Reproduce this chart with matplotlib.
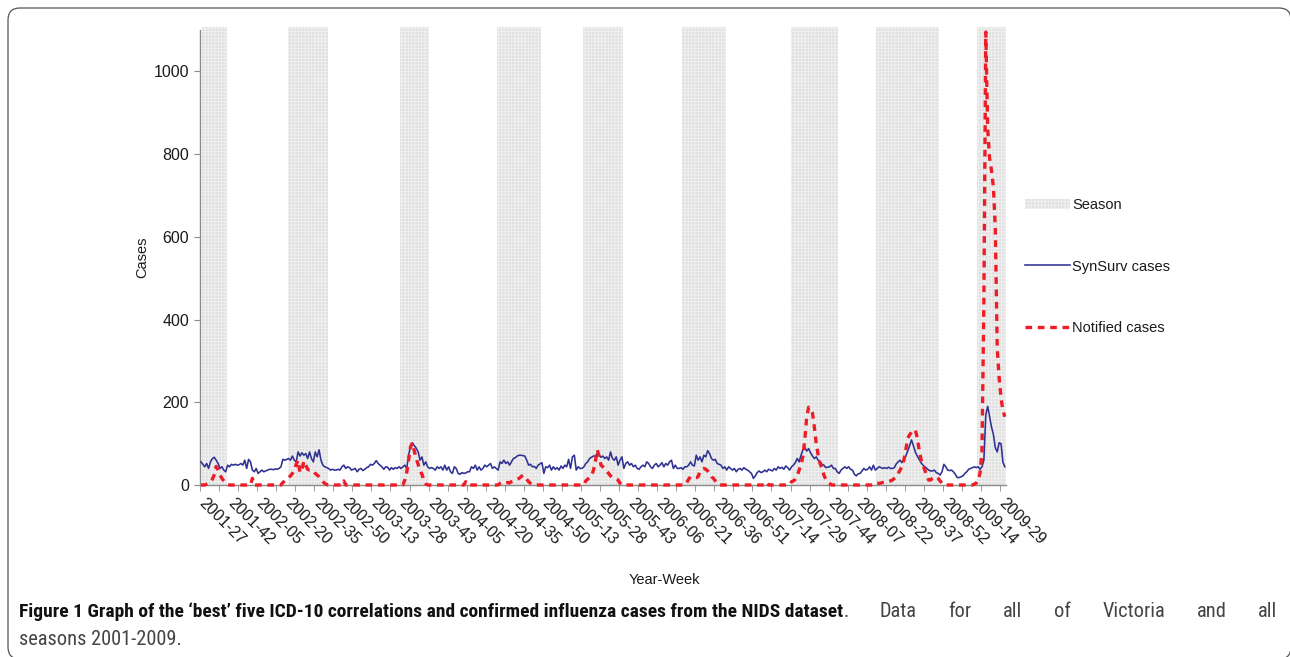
import matplotlib
matplotlib.use("Agg")
import numpy as np
import matplotlib.pyplot as plt
from matplotlib import font_manager
from matplotlib.patches import Patch, FancyBboxPatch
from matplotlib.lines import Line2D
from matplotlib.transforms import IdentityTransform, ScaledTranslation

# -------- data: weekly counts, one value per Year-Week from 2001-27 --------

synsurv = [
    56, 50, 44, 52, 40, 56, 64, 67, 60, 52,
    40, 44, 36, 32, 48, 44, 50, 48, 50, 48,
    49, 52, 48, 60, 40, 62, 56, 36, 32, 40,
    28, 32, 36, 32, 34, 36, 38, 38, 37, 39,
    38, 40, 44, 62, 60, 62, 64, 60, 70, 60,
    56, 80, 70, 78, 72, 76, 64, 80, 64, 56,
    80, 68, 85, 60, 48, 44, 42, 40, 36, 38,
    36, 36, 38, 36, 44, 48, 40, 44, 42, 36,
    38, 40, 32, 38, 40, 35, 38, 42, 44, 50,
    48, 52, 59, 52, 48, 44, 38, 44, 43, 36,
    42, 38, 42, 40, 44, 40, 44, 48, 40, 72,
    94, 102, 95, 89, 80, 60, 68, 48, 56, 44,
    40, 42, 40, 36, 44, 40, 44, 36, 48, 36,
    44, 32, 28, 44, 40, 28, 26, 30, 28, 29,
    32, 32, 44, 40, 48, 36, 44, 36, 40, 48,
    44, 48, 52, 40, 44, 40, 36, 56, 52, 60,
    52, 56, 48, 56, 64, 66, 70, 72, 72, 71,
    70, 60, 48, 50, 44, 45, 40, 48, 51, 54,
    28, 44, 42, 48, 36, 44, 38, 42, 36, 46,
    40, 48, 44, 62, 40, 68, 72, 36, 44, 40,
    40, 44, 52, 56, 64, 67, 70, 70, 76, 72,
    67, 70, 64, 68, 60, 80, 64, 60, 68, 48,
    60, 68, 40, 52, 56, 48, 52, 44, 48, 40,
    38, 44, 48, 44, 56, 52, 44, 40, 48, 52,
    44, 48, 54, 44, 52, 48, 56, 60, 40, 48,
    40, 40, 42, 38, 44, 44, 48, 56, 48, 46,
    72, 60, 68, 56, 72, 68, 83, 76, 64, 60,
    62, 52, 50, 48, 40, 44, 36, 44, 40, 36,
    40, 32, 38, 40, 36, 42, 38, 36, 32, 28,
    16, 22, 30, 34, 30, 32, 36, 32, 38, 36,
    34, 40, 36, 44, 40, 43, 38, 46, 42, 36,
    44, 48, 54, 64, 56, 72, 85, 91, 82, 88,
    78, 70, 64, 68, 60, 56, 50, 48, 42, 43,
    44, 48, 40, 40, 32, 28, 36, 40, 44, 40,
    44, 38, 36, 26, 22, 27, 28, 34, 40, 36,
    38, 44, 36, 48, 36, 40, 44, 42, 40, 42,
    40, 43, 40, 40, 42, 51, 56, 60, 54, 62,
    70, 82, 95, 109, 95, 80, 70, 62, 54, 48,
    44, 40, 36, 34, 34, 36, 30, 28, 24, 32,
    50, 44, 36, 35, 36, 32, 26, 18, 18, 20,
    22, 28, 32, 38, 40, 42, 44, 42, 44, 38,
    44, 60, 170, 190, 165, 140, 122, 90, 80, 102,
    100, 55, 44,
]

notified = [
    0, 0, 0, 2, 4, 8, 14, 25, 45, 36,
    24, 16, 10, 4, 1, 0, 0, 0, 0, 0,
    0, 0, 0, 0, 0, 0, 0, 16, 0, 0,
    0, 0, 0, 0, 0, 0, 0, 0, 0, 0,
    0, 0, 0, 6, 10, 14, 18, 22, 28, 36,
    50, 60, 30, 36, 58, 48, 38, 36, 36, 34,
    28, 24, 20, 14, 8, 4, 1, 0, 0, 0,
    0, 0, 0, 0, 0, 10, 0, 0, 0, 0,
    0, 0, 0, 0, 0, 0, 0, 0, 0, 0,
    0, 0, 0, 0, 0, 0, 0, 0, 0, 0,
    0, 0, 0, 0, 0, 0, 0, 12, 30, 60,
    92, 102, 82, 64, 50, 36, 26, 12, 3, 0,
    0, 0, 0, 0, 0, 0, 0, 0, 0, 0,
    0, 0, 0, 0, 0, 0, 0, 0, 0, 8,
    0, 0, 0, 0, 0, 0, 0, 0, 0, 0,
    0, 0, 0, 0, 0, 0, 0, 4, 6, 4,
    5, 6, 5, 8, 10, 12, 14, 16, 20, 24,
    20, 14, 8, 4, 2, 0, 0, 0, 0, 0,
    0, 0, 0, 0, 0, 0, 0, 0, 0, 0,
    0, 0, 0, 0, 0, 0, 0, 0, 0, 0,
    0, 0, 10, 14, 18, 22, 35, 55, 85, 70,
    48, 44, 40, 34, 28, 22, 18, 16, 14, 12,
    4, 0, 0, 0, 0, 0, 0, 0, 0, 0,
    0, 0, 0, 0, 0, 0, 0, 0, 0, 0,
    0, 0, 0, 0, 0, 0, 0, 0, 0, 0,
    0, 0, 0, 0, 0, 6, 14, 20, 20, 18,
    18, 20, 34, 38, 40, 38, 34, 28, 20, 16,
    10, 4, 0, 0, 0, 0, 0, 0, 0, 0,
    0, 0, 0, 0, 0, 0, 0, 0, 0, 0,
    0, 0, 0, 0, 0, 0, 0, 6, 0, 0,
    0, 0, 0, 0, 0, 0, 0, 0, 0, 0,
    8, 10, 14, 22, 36, 48, 70, 110, 165, 188,
    185, 175, 140, 100, 72, 52, 40, 24, 14, 8,
    4, 0, 0, 0, 0, 0, 0, 0, 0, 0,
    0, 0, 0, 0, 0, 0, 0, 0, 0, 0,
    0, 0, 0, 0, 0, 4, 4, 5, 6, 6,
    7, 8, 10, 12, 16, 20, 28, 36, 45, 60,
    85, 113, 121, 128, 133, 133, 115, 85, 62, 48,
    36, 22, 12, 12, 16, 18, 20, 16, 10, 4,
    0, 0, 0, 0, 0, 0, 0, 0, 0, 0,
    0, 0, 0, 0, 0, 0, 2, 5, 10, 30,
    80, 450, 1095, 860, 790, 760, 720, 620, 330, 260,
    210, 180, 165,
]

# season = first / last week index of each shaded block
season_start = [1, 46, 105, 156, 201, 253, 310, 355, 408]
season_end = [13, 66, 119, 178, 221, 275, 334, 387, 422]

tick_labels = [
    "2001-27", "2001-42", "2002-05", "2002-20", "2002-35", "2002-50",
    "2003-13", "2003-28", "2003-43", "2004-05", "2004-20", "2004-35",
    "2004-50", "2005-13", "2005-28", "2005-43", "2006-06", "2006-21",
    "2006-36", "2006-51", "2007-14", "2007-29", "2007-44", "2008-07",
    "2008-22", "2008-37", "2008-52", "2009-14", "2009-29",
]
label_every = 15
tick_every = 10

cap_bold = ("Figure 1 Graph of the \u2018best\u2019 five ICD-10 correlations and "
            "confirmed influenza cases from the NIDS dataset")
cap_rest = ". Data for all of Victoria and all"
cap_line2 = "seasons 2001-2009."

# -------- styling --------

W, H = 1290, 657
plt.rcParams["font.family"] = ["Liberation Sans", "DejaVu Sans"]
plt.rcParams["hatch.linewidth"] = 0.6

season_face = "#e1e1e1"
season_hatch = "#f1f1f1"
blue = "#2e3192"
red = "#ee1c25"
axis_grey = "#8a8a8a"
text_col = "#1a1a1a"
cap_grey = "#444444"

names = {f.name for f in font_manager.fontManager.ttflist}
cap_family = next((f for f in ["Liberation Sans Narrow", "Roboto Condensed",
                               "Open Sans Condensed"] if f in names),
                  "Liberation Sans")

fig = plt.figure(figsize=(W / 100, H / 100), dpi=100)
ax = fig.add_axes([200 / W, 1 - 485 / H, 805.8 / W, 455 / H])

n = len(synsurv)
x = np.arange(n)

for s, e in zip(season_start, season_end):
    ax.axvspan(s - 0.5, e + 0.5, ymin=0, ymax=1.007, facecolor=season_face,
               edgecolor=season_hatch, hatch="+++++", lw=0, zorder=0, clip_on=False)

ax.plot(x, synsurv, color=blue, lw=1.15, zorder=3, clip_on=False)
ax.plot(x, notified, color=red, lw=2.4, dashes=(2, 1.7), zorder=4, clip_on=False)

ax.set_xlim(-0.5, n - 0.5)
ax.set_ylim(0, 1100)

for side in ["top", "right"]:
    ax.spines[side].set_visible(False)
for side in ["left", "bottom"]:
    ax.spines[side].set_color(axis_grey)
    ax.spines[side].set_linewidth(1.0)

ax.set_yticks(range(0, 1001, 200))
ax.tick_params(axis="y", direction="out", length=4, color=axis_grey,
               labelsize=11.5, labelcolor=text_col, pad=4)

ax.set_xticks(np.arange(0, n, label_every))
ax.set_xticklabels(tick_labels, rotation=-45, ha="left", va="top",
                   rotation_mode="anchor")
ax.set_xticks(np.arange(-0.5, n, tick_every), minor=True)
ax.tick_params(axis="x", which="major", length=0, labelsize=11.5,
               labelcolor=text_col, pad=7)
ax.tick_params(axis="x", which="minor", direction="out", length=4, color=axis_grey)
# nudge the slanted labels so they start just right of their week
shift = ScaledTranslation(0.06, -0.01, fig.dpi_scale_trans)
for lab in ax.get_xticklabels():
    lab.set_transform(lab.get_transform() + shift)

fig.text(142 / W, 1 - 257 / H, "Cases", rotation=90, ha="center", va="center",
         fontsize=10.5, color=text_col)
fig.text(664 / W, 1 - 580 / H, "Year-Week", ha="center", va="center",
         fontsize=10.5, color=text_col)

handles = [
    Patch(facecolor=season_face, edgecolor=season_hatch, hatch="+++++", lw=0),
    Line2D([], [], color=blue, lw=1.15),
    Line2D([], [], color=red, lw=2.4, dashes=(2, 1.7)),
]
fig.legend(handles, ["Season", "SynSurv cases", "Notified cases"],
           loc="center left", bbox_to_anchor=(1025 / W, 1 - 266.5 / H),
           frameon=False, fontsize=10.5, handlelength=3.1, handletextpad=0.15,
           labelspacing=3.25, borderpad=0, borderaxespad=0, labelcolor=text_col)

# caption: bold lead-in at natural spacing, regular words justified to the margin
r = fig.canvas.get_renderer()
base1 = 1 - 617 / H
base2 = 1 - 645 / H
t1 = fig.text(19 / W, base1, cap_bold, fontsize=10, fontweight="bold",
              family=cap_family, va="baseline", color="#111111")
size = 10 * (840 - 19) / t1.get_window_extent(r).width
t1.set_fontsize(size)
x_end = 19 + t1.get_window_extent(r).width
reg_size = size * 1.05

words = cap_rest.split()
toks = [fig.text(0, base1, w, fontsize=reg_size, family=cap_family,
                 va="baseline", color=cap_grey) for w in words]
widths = [t.get_window_extent(r).width for t in toks]
toks[0].set_x(x_end / W)
start = x_end + widths[0]
gap = (1277 - start - sum(widths[1:])) / (len(words) - 1)
pos = start + gap
for t, w in zip(toks[1:], widths[1:]):
    t.set_x(pos / W)
    pos += w + gap

fig.text(19 / W, base2, cap_line2, fontsize=reg_size, family=cap_family,
         va="baseline", color=cap_grey)

# rounded panel border
border = FancyBboxPatch((8, -2), 1283, 651, boxstyle="round,pad=0,rounding_size=12",
                        transform=IdentityTransform(), facecolor="none",
                        edgecolor="#555555", lw=0.9)
fig.add_artist(border)

fig.savefig("out.png", dpi=100)
